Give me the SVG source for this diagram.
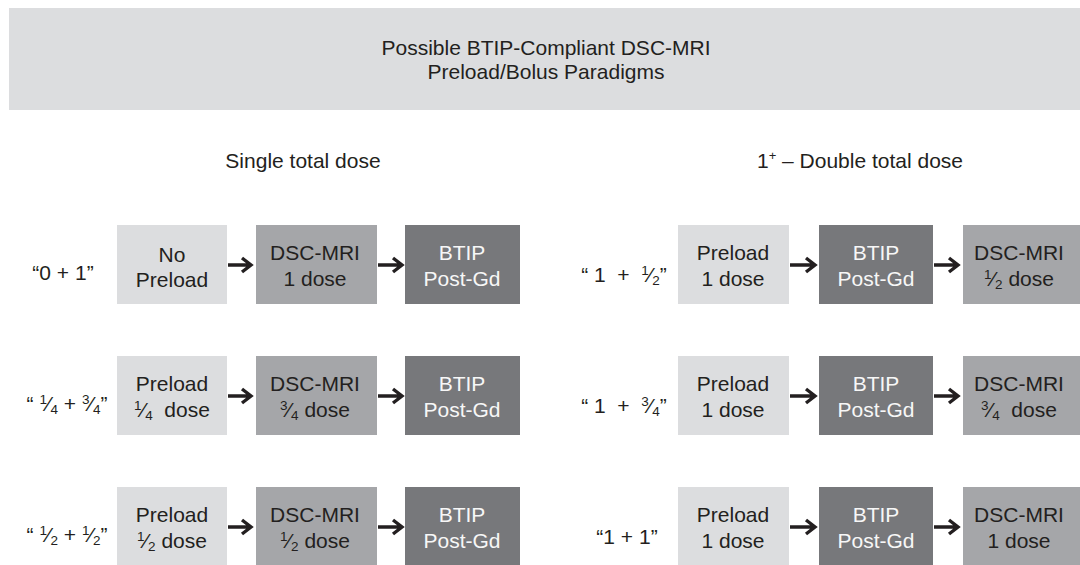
<svg xmlns="http://www.w3.org/2000/svg" width="1080" height="565" viewBox="0 0 1080 565">
<defs>
<style>
text{font-family:"Liberation Sans",Arial,sans-serif;font-size:21px;fill:#231f20;text-anchor:middle}
.w{fill:#f7f7f7}
.f{font-size:13.5px}
.light{fill:#dcdddf}
.mid{fill:#a5a6a9}
.dark{fill:#77787b}
.arr{fill:none;stroke:#231f20;stroke-width:3.4;stroke-linejoin:miter}
</style>
</defs>
<rect width="1080" height="565" fill="#ffffff"/>
<g id="header">
<rect x="9" y="8" width="1071" height="102" class="light"/>
<text x="546" y="55">Possible BTIP-Compliant DSC-MRI</text>
<text x="546" y="79">Preload/Bolus Paradigms</text>
</g>
<g id="subheads">
<text x="303" y="168">Single total dose</text>
<text x="860" y="168">1<tspan font-size="13" dy="-8">+</tspan><tspan dy="8"> – Double total dose</tspan></text>
</g>
<g id="labels">
<text x="63" y="280">“0 + 1”</text>
<text x="67" y="411">“ <tspan class="f" dy="-7">1</tspan><tspan dy="7">⁄</tspan><tspan class="f" dy="3">4</tspan><tspan dy="-3"> + </tspan><tspan class="f" dy="-7">3</tspan><tspan dy="7">⁄</tspan><tspan class="f" dy="3">4</tspan><tspan dy="-3">”</tspan></text>
<text x="67" y="542">“ <tspan class="f" dy="-7">1</tspan><tspan dy="7">⁄</tspan><tspan class="f" dy="3">2</tspan><tspan dy="-3"> + </tspan><tspan class="f" dy="-7">1</tspan><tspan dy="7">⁄</tspan><tspan class="f" dy="3">2</tspan><tspan dy="-3">”</tspan></text>
<text x="624" y="282">“ 1&#160; +&#160; <tspan class="f" dy="-7">1</tspan><tspan dy="7">⁄</tspan><tspan class="f" dy="3">2</tspan><tspan dy="-3">”</tspan></text>
<text x="624" y="413">“ 1&#160; +&#160; <tspan class="f" dy="-7">3</tspan><tspan dy="7">⁄</tspan><tspan class="f" dy="3">4</tspan><tspan dy="-3">”</tspan></text>
<text x="627" y="544">“1 + 1”</text>
</g>
<g id="n-L1a"><rect x="117" y="225" width="110" height="79" class="light"/><text x="172" y="262">No</text><text x="172" y="287">Preload</text></g>
<g id="n-L1b"><rect x="256" y="225" width="121" height="79" class="mid"/><text x="315" y="260">DSC-MRI</text><text x="315" y="286">1 dose</text></g>
<g id="n-L1c"><rect x="405" y="225" width="115" height="79" class="dark"/><text class="w" x="462" y="260">BTIP</text><text class="w" x="462" y="286">Post-Gd</text></g>

<g id="n-L2a"><rect x="117" y="356" width="110" height="79" class="light"/><text x="172" y="391">Preload</text><text x="172" y="417"><tspan class="f" dy="-7">1</tspan><tspan dy="7">⁄</tspan><tspan class="f" dy="3">4</tspan><tspan dy="-3">&#160; dose</tspan></text></g>
<g id="n-L2b"><rect x="256" y="356" width="121" height="79" class="mid"/><text x="315" y="391">DSC-MRI</text><text x="315" y="417"><tspan class="f" dy="-7">3</tspan><tspan dy="7">⁄</tspan><tspan class="f" dy="3">4</tspan><tspan dy="-3"> dose</tspan></text></g>
<g id="n-L2c"><rect x="405" y="356" width="115" height="79" class="dark"/><text class="w" x="462" y="391">BTIP</text><text class="w" x="462" y="417">Post-Gd</text></g>

<g id="n-L3a"><rect x="117" y="487" width="110" height="79" class="light"/><text x="172" y="522">Preload</text><text x="172" y="548"><tspan class="f" dy="-7">1</tspan><tspan dy="7">⁄</tspan><tspan class="f" dy="3">2</tspan><tspan dy="-3"> dose</tspan></text></g>
<g id="n-L3b"><rect x="256" y="487" width="121" height="79" class="mid"/><text x="315" y="522">DSC-MRI</text><text x="315" y="548"><tspan class="f" dy="-7">1</tspan><tspan dy="7">⁄</tspan><tspan class="f" dy="3">2</tspan><tspan dy="-3"> dose</tspan></text></g>
<g id="n-L3c"><rect x="405" y="487" width="115" height="79" class="dark"/><text class="w" x="462" y="522">BTIP</text><text class="w" x="462" y="548">Post-Gd</text></g>

<g id="n-R1a"><rect x="678" y="225" width="111" height="79" class="light"/><text x="733" y="260">Preload</text><text x="733" y="286">1 dose</text></g>
<g id="n-R1b"><rect x="819" y="225" width="114" height="79" class="dark"/><text class="w" x="876" y="260">BTIP</text><text class="w" x="876" y="286">Post-Gd</text></g>
<g id="n-R1c"><rect x="963" y="225" width="117" height="79" class="mid"/><text x="1019" y="260">DSC-MRI</text><text x="1019" y="286"><tspan class="f" dy="-7">1</tspan><tspan dy="7">⁄</tspan><tspan class="f" dy="3">2</tspan><tspan dy="-3"> dose</tspan></text></g>

<g id="n-R2a"><rect x="678" y="356" width="111" height="79" class="light"/><text x="733" y="391">Preload</text><text x="733" y="417">1 dose</text></g>
<g id="n-R2b"><rect x="819" y="356" width="114" height="79" class="dark"/><text class="w" x="876" y="391">BTIP</text><text class="w" x="876" y="417">Post-Gd</text></g>
<g id="n-R2c"><rect x="963" y="356" width="117" height="79" class="mid"/><text x="1019" y="391">DSC-MRI</text><text x="1019" y="417"><tspan class="f" dy="-7">3</tspan><tspan dy="7">⁄</tspan><tspan class="f" dy="3">4</tspan><tspan dy="-3">&#160; dose</tspan></text></g>

<g id="n-R3a"><rect x="678" y="487" width="111" height="79" class="light"/><text x="733" y="522">Preload</text><text x="733" y="548">1 dose</text></g>
<g id="n-R3b"><rect x="819" y="487" width="114" height="79" class="dark"/><text class="w" x="876" y="522">BTIP</text><text class="w" x="876" y="548">Post-Gd</text></g>
<g id="n-R3c"><rect x="963" y="487" width="117" height="79" class="mid"/><text x="1019" y="522">DSC-MRI</text><text x="1019" y="548">1 dose</text></g>

<g id="connectors" class="arr">
<path d="M228 265H251M242 258L251 265L242 272"/>
<path d="M378 265H402M393 258L402 265L393 272"/>
<path d="M228 396H251M242 389L251 396L242 403"/>
<path d="M378 396H402M393 389L402 396L393 403"/>
<path d="M228 527H251M242 520L251 527L242 534"/>
<path d="M378 527H402M393 520L402 527L393 534"/>
<path d="M790 265H815M806 258L815 265L806 272"/>
<path d="M934 265H958M949 258L958 265L949 272"/>
<path d="M790 396H815M806 389L815 396L806 403"/>
<path d="M934 396H958M949 389L958 396L949 403"/>
<path d="M790 527H815M806 520L815 527L806 534"/>
<path d="M934 527H958M949 520L958 527L949 534"/>
</g>
</svg>
